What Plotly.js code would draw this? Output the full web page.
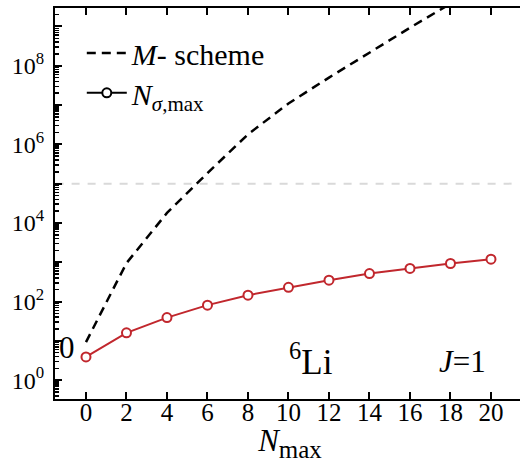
<!DOCTYPE html>
<html>
<head>
<meta charset="utf-8">
<script src="https://cdn.plot.ly/plotly-3.0.1.min.js"></script>
<style>
html,body{margin:0;padding:0;overflow:hidden;background:#fff;}
#chart{width:530px;height:463px;}
</style>
</head>
<body>
<div id="chart"></div>
<script>
// Data
const nmax = [0, 2, 4, 6, 8, 10, 12, 14, 16, 18, 20];
const mScheme = [9.3, 950, 1.8e4, 1.86e5, 1.8e6, 1.1e7, 5.0e7, 2.2e8, 9.3e8, 3.8e9, 1.5e10];
const nSigmaMax = [3.9, 16, 39, 81, 145, 230, 350, 515, 695, 930, 1200];
const thresholdX = [-1.5, 21.3];
const thresholdY = [1e5, 1e5];
const yTickVals = [1, 10, 100, 1e3, 1e4, 1e5, 1e6, 1e7, 1e8, 1e9];
const yTickText = ['10<sup>0</sup>', '', '10<sup>2</sup>', '', '10<sup>4</sup>', '', '10<sup>6</sup>', '', '10<sup>8</sup>', ''];
const xTickVals = [0, 2, 4, 6, 8, 10, 12, 14, 16, 18, 20];

const minorVals = [];
for (let e = -1; e <= 9; e++) {
  for (let m = 2; m <= 9; m++) minorVals.push(m * Math.pow(10, e));
}

const serif = 'Liberation Serif, Times New Roman, Times, serif';
const red = '#c1272d';

const traces = [
  {
    x: thresholdX, y: thresholdY, mode: 'lines', showlegend: false, hoverinfo: 'skip',
    line: {color: '#d9d9d9', width: 2, dash: '8px,8px'}
  },
  {
    x: nmax, y: mScheme, mode: 'lines', name: '<i>M</i>- scheme', legend: 'legend',
    line: {color: '#000', width: 2.5, dash: '9px,6px'}
  },
  {
    x: nmax, y: nSigmaMax, mode: 'lines+markers', showlegend: false,
    line: {color: red, width: 2},
    marker: {symbol: 'circle', size: 9, color: '#fff', line: {color: red, width: 2}}
  },
  {
    x: [null], y: [null], mode: 'lines+markers', name: '<i>N</i><sub><i>σ</i>,max</sub>', legend: 'legend2',
    line: {color: '#000', width: 2},
    marker: {symbol: 'circle', size: 9, color: '#fff', line: {color: '#000', width: 2}}
  }
];

const legendCommon = {
  xanchor: 'left', yanchor: 'middle',
  bgcolor: 'rgba(0,0,0,0)', borderwidth: 0,
  font: {family: serif, size: 30, color: '#000'},
  itemwidth: 40
};

const layout = {
  width: 530, height: 463,
  margin: {l: 55, r: 5, t: 8, b: 64},
  paper_bgcolor: '#fff', plot_bgcolor: '#fff',
  font: {family: serif, color: '#000', size: 24},
  showlegend: true,
  legend: Object.assign({x: 0.057, y: 0.885}, legendCommon),
  legend2: Object.assign({x: 0.057, y: 0.783}, legendCommon),
  xaxis: {
    range: [-1.53, 21.68],
    tickmode: 'array', tickvals: xTickVals, ticktext: xTickVals.map(String),
    ticks: 'inside', ticklen: 7, tickwidth: 2, tickcolor: '#000',
    showline: true, linecolor: '#000', linewidth: 2, mirror: 'ticks',
    showgrid: false, zeroline: false,
    tickfont: {family: serif, size: 25, color: '#000'},
    ticklabelstandoff: -10,
    title: {text: '<i>N</i><sub><span style="font-size:25px">max</span></sub>', font: {family: serif, size: 31, color: '#000'}, standoff: 4}
  },
  yaxis: {
    type: 'log', range: [-0.48, 9.47],
    tickmode: 'array', tickvals: yTickVals, ticktext: yTickText,
    ticks: 'inside', ticklen: 7, tickwidth: 2, tickcolor: '#000',
    minor: {tickmode: 'array', tickvals: minorVals, ticks: 'inside', ticklen: 4, tickwidth: 1.5, tickcolor: '#000', showgrid: false},
    showline: true, linecolor: '#000', linewidth: 2, mirror: false,
    showgrid: false, zeroline: false,
    tickfont: {family: serif, size: 24, color: '#000'},
    ticklabelstandoff: 4
  },
  annotations: [
    {xref: 'paper', yref: 'paper', x: 0.005, y: 0.132, xanchor: 'left', yanchor: 'middle', showarrow: false,
     text: '0', font: {family: serif, size: 31, color: '#000'}},
    {xref: 'x', yref: 'paper', x: 11.1, y: 0.1, xanchor: 'center', yanchor: 'middle', showarrow: false,
     text: '<sup>6</sup>Li', font: {family: serif, size: 35, color: '#000'}},
    {xref: 'x', yref: 'paper', x: 18.6, y: 0.095, xanchor: 'center', yanchor: 'middle', showarrow: false,
     text: '<i>J</i>=1', font: {family: serif, size: 31, color: '#000'}}
  ]
};

Plotly.newPlot('chart', traces, layout, {displayModeBar: false, staticPlot: true});
</script>
</body>
</html>
